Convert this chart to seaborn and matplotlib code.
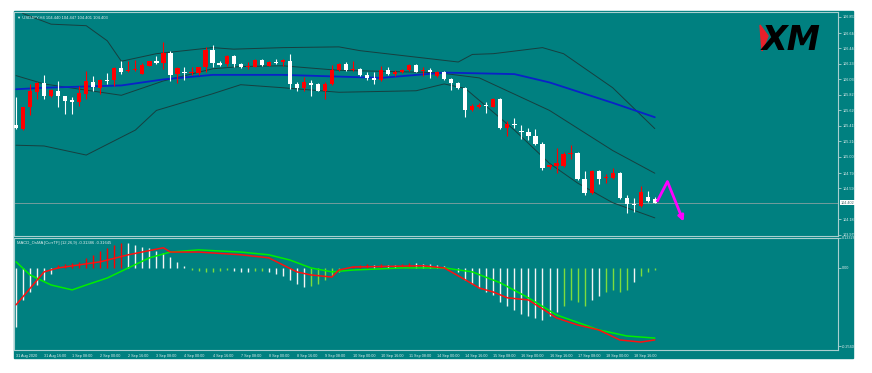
import numpy as np
import matplotlib.pyplot as plt
import matplotlib.patches as mpatches
import seaborn as sns

# USDJPY H4 candles (red = up bar, white = down bar)
opens = [105.421, 105.377, 105.662, 105.868, 105.978, 105.807, 105.873, 105.807, 105.759, 105.728,
         105.838, 105.999, 105.917, 106.026, 106.022, 106.180, 106.136, 106.153, 106.101, 106.210,
         106.276, 106.241, 106.373, 106.101, 106.132, 106.114, 106.114, 106.197, 106.421, 106.246,
         106.232, 106.342, 106.232, 106.189, 106.197, 106.285, 106.210, 106.263, 106.254, 106.276,
         105.969, 105.912, 105.978, 105.969, 105.881, 105.969, 106.157, 106.232, 106.153, 106.166,
         106.092, 106.043, 106.021, 106.157, 106.100, 106.122, 106.153, 106.219, 106.135, 106.153,
         106.070, 106.131, 106.035, 105.978, 105.912, 105.631, 105.671, 105.697, 105.671, 105.771,
         105.390, 105.443, 105.346, 105.333, 105.280, 105.179, 104.872, 104.885, 104.885, 105.039,
         105.061, 104.719, 104.530, 104.815, 104.728, 104.732, 104.793, 104.464, 104.381, 104.359,
         104.478, 104.443]
highs = [105.794, 105.671, 105.969, 105.991, 106.088, 105.903, 106.013, 105.816, 105.794, 105.947,
         106.145, 106.079, 106.035, 106.110, 106.197, 106.267, 106.276, 106.285, 106.246, 106.276,
         106.342, 106.531, 106.408, 106.189, 106.189, 106.189, 106.197, 106.452, 106.487, 106.267,
         106.355, 106.355, 106.246, 106.254, 106.298, 106.298, 106.276, 106.298, 106.298, 106.364,
         105.991, 106.057, 106.021, 105.978, 105.991, 106.223, 106.241, 106.254, 106.276, 106.179,
         106.122, 106.122, 106.210, 106.188, 106.153, 106.166, 106.232, 106.232, 106.197, 106.175,
         106.135, 106.144, 106.048, 105.991, 105.925, 105.706, 105.714, 105.728, 105.785, 105.785,
         105.486, 105.521, 105.421, 105.390, 105.377, 105.201, 104.916, 105.127, 105.070, 105.157,
         105.070, 104.815, 104.828, 104.828, 104.785, 104.859, 104.807, 104.500, 104.456, 104.622,
         104.557, 104.478]
lows = [105.377, 105.355, 105.553, 105.772, 105.772, 105.794, 105.662, 105.575, 105.575, 105.684,
        105.772, 105.882, 105.838, 105.969, 105.947, 106.101, 106.123, 106.145, 106.101, 106.202,
        106.232, 106.167, 106.013, 105.982, 106.022, 106.092, 106.092, 106.123, 106.189, 106.202,
        106.210, 106.189, 106.180, 106.167, 106.189, 106.202, 106.202, 106.232, 106.210, 105.903,
        105.881, 105.881, 105.815, 105.872, 105.771, 105.960, 106.144, 106.144, 106.144, 106.078,
        106.026, 105.969, 106.013, 106.087, 106.078, 106.114, 106.135, 106.122, 106.078, 106.048,
        106.057, 106.021, 105.890, 105.899, 105.530, 105.618, 105.653, 105.583, 105.662, 105.377,
        105.280, 105.390, 105.245, 105.223, 105.157, 104.828, 104.850, 104.798, 104.872, 104.982,
        104.697, 104.500, 104.521, 104.644, 104.662, 104.719, 104.443, 104.258, 104.280, 104.346,
        104.412, 104.390]
closes = [105.390, 105.662, 105.882, 105.978, 105.807, 105.890, 105.807, 105.750, 105.728, 105.846,
          106.004, 105.925, 106.026, 106.013, 106.180, 106.127, 106.153, 106.167, 106.224, 106.276,
          106.246, 106.373, 106.092, 106.175, 106.114, 106.132, 106.197, 106.421, 106.241, 106.215,
          106.342, 106.232, 106.197, 106.202, 106.285, 106.215, 106.263, 106.246, 106.280, 105.969,
          105.912, 106.000, 105.960, 105.881, 105.969, 106.157, 106.232, 106.157, 106.162, 106.092,
          106.043, 106.021, 106.157, 106.100, 106.122, 106.153, 106.219, 106.131, 106.153, 106.131,
          106.122, 106.035, 105.978, 105.916, 105.631, 105.684, 105.697, 105.675, 105.771, 105.385,
          105.443, 105.421, 105.333, 105.280, 105.179, 104.864, 104.894, 104.929, 105.048, 105.061,
          104.719, 104.535, 104.815, 104.719, 104.741, 104.793, 104.464, 104.377, 104.364, 104.543,
          104.425, 104.402]

# Bollinger bands and blue moving average, read at a few bars
upper_idx = [0, 1, 5, 10, 13, 15, 20, 28, 31, 38, 46, 49, 63, 65, 68, 75, 78, 85, 91]
upper_band = [107.00, 106.90, 106.76, 106.74, 106.54, 106.27, 106.37, 106.45, 106.43, 106.45,
              106.46, 106.41, 106.26, 106.36, 106.37, 106.45, 106.37, 105.92, 105.38]
mid_idx = [0, 4, 15, 21, 28, 32, 38, 46, 60, 66, 76, 85, 91]
mid_band = [106.08, 105.97, 105.82, 106.01, 106.17, 106.20, 106.21, 106.15, 106.12, 106.05,
            105.62, 105.09, 104.79]
lower_idx = [0, 4, 10, 17, 20, 28, 32, 38, 46, 57, 61, 64, 71, 76, 80, 85, 91]
lower_band = [105.16, 105.15, 105.03, 105.36, 105.62, 105.84, 105.96, 105.92, 105.86, 105.88,
              105.97, 105.91, 105.36, 104.92, 104.66, 104.40, 104.20]
ma_idx = [0, 4, 15, 21, 28, 38, 45, 52, 61, 71, 76, 85, 91]
ma_line = [105.90, 105.92, 105.95, 106.03, 106.09, 106.09, 106.07, 106.05, 106.12, 106.10,
           105.99, 105.72, 105.53]

# forecast arrow
arrow_idx = [91.3, 92.8, 95.1]
arrow_px = [104.41, 104.68, 104.15]

# MACD_OsMA histogram and lines
osma = [-0.193, -0.105, -0.079, -0.056, -0.039, -0.020, 0.010, 0.013, 0.016, 0.020,
        0.033, 0.043, 0.056, 0.066, 0.075, 0.082, 0.082, 0.075, 0.069, 0.066,
        0.056, 0.049, 0.036, 0.020, 0.007, -0.007, -0.010, -0.013, -0.013, -0.010,
        -0.007, -0.010, -0.013, -0.013, -0.010, -0.010, -0.013, -0.020, -0.026, -0.039,
        -0.052, -0.062, -0.059, -0.052, -0.039, -0.026, -0.013, 0.000, 0.007, 0.010,
        0.013, 0.010, 0.013, 0.010, 0.010, 0.013, 0.016, 0.016, 0.013, 0.013,
        0.010, 0.007, 0.000, -0.013, -0.039, -0.052, -0.066, -0.079, -0.089, -0.111,
        -0.125, -0.138, -0.151, -0.157, -0.164, -0.170, -0.157, -0.144, -0.125, -0.105,
        -0.111, -0.125, -0.105, -0.092, -0.079, -0.072, -0.079, -0.072, -0.046, -0.026,
        -0.013, -0.007]
osma_kind = list("WWWWWWRRRRRRRRRRWWWWWWWWWGGGGGGWWWGGWWWWWWGGGGGGRRRWRWWRRWWWWWWWWWWWWWWWWWWWWWGGGGWWGGGGWGGGGW")
macd_idx = [0, 4, 6, 12, 16, 21, 22, 26, 32, 36, 38, 40, 42, 45, 46, 48, 58, 61, 64, 66,
            68, 70, 73, 77, 80, 83, 86, 89, 91]
macd_main = [-0.121, -0.013, 0.000, 0.020, 0.043, 0.066, 0.052, 0.052, 0.043, 0.033,
             0.010, -0.013, -0.023, -0.030, -0.007, 0.003, 0.007, 0.000, -0.039, -0.066,
             -0.079, -0.098, -0.105, -0.164, -0.187, -0.203, -0.236, -0.243, -0.236]
signal_idx = [0, 2, 5, 8, 10, 13, 16, 19, 22, 26, 32, 36, 39, 42, 45, 48, 55, 61, 65, 69,
              73, 77, 83, 87, 91]
macd_signal = [0.020, -0.023, -0.056, -0.072, -0.056, -0.033, 0.000, 0.033, 0.052, 0.059,
               0.052, 0.043, 0.026, 0.000, -0.013, -0.007, 0.000, 0.000, -0.013, -0.049,
               -0.098, -0.154, -0.203, -0.223, -0.230]

time_labels = ["31 Aug 2020", "31 Aug 16:00", "1 Sep 08:00", "2 Sep 00:00", "2 Sep 16:00",
               "3 Sep 08:00", "4 Sep 00:00", "4 Sep 16:00", "7 Sep 08:00", "8 Sep 00:00",
               "8 Sep 16:00", "9 Sep 08:00", "10 Sep 00:00", "10 Sep 16:00", "11 Sep 08:00",
               "14 Sep 00:00", "14 Sep 16:00", "15 Sep 08:00", "16 Sep 00:00", "16 Sep 16:00",
               "17 Sep 08:00", "18 Sep 00:00", "18 Sep 16:00"]
price_ticks = [106.855, 106.640, 106.440, 106.235, 106.030, 105.825, 105.620, 105.415,
               105.210, 105.005, 104.790, 104.590, 104.180, 103.975]
last_price = 104.402

TEAL = '#008080'
RED = '#ff0000'
WHITE = '#ffffff'
BAND = '#173f3f'
FRAME = '#a9cfcf'
TXT = '#e4eeee'
hist_colors = {'W': '#f4f4f4', 'R': '#ff0000', 'G': '#7ddc3c'}
SMALL = 2.7

sns.set_theme(style="white")
plt.rcParams['font.family'] = ['Liberation Sans', 'DejaVu Sans']

W, H = 872, 373
fig = plt.figure(figsize=(W / 100, H / 100), dpi=100)
fig.patch.set_facecolor('white')


def fx(px):
    return px / W


def fy(py):
    return 1 - py / H


fig.patches.append(mpatches.Rectangle((fx(14), fy(358)), fx(853) - fx(14), fy(11) - fy(358),
                                      transform=fig.transFigure, color=TEAL, zorder=-5))
ax1 = fig.add_axes([fx(14), fy(236), fx(838) - fx(14), fy(12) - fy(236)])
ax2 = fig.add_axes([fx(14), fy(350), fx(838) - fx(14), fy(238) - fy(350)])

xlim = (-0.29, 117.1)
for ax in (ax1, ax2):
    ax.set_facecolor(TEAL)
    ax.set_xlim(*xlim)
    for s in ax.spines.values():
        s.set_color(FRAME)
        s.set_linewidth(0.8)
    ax.yaxis.tick_right()
    ax.tick_params(axis='both', length=2, width=0.6, color=FRAME, labelsize=SMALL,
                   labelcolor=TXT, pad=1)

# --- price panel
idx = np.arange(len(closes))
o = np.array(opens)
c = np.array(closes)
cols = np.where(c >= o, RED, WHITE)
ax1.axhline(last_price, color='#a0a8a8', lw=0.5, zorder=1)
ax1.vlines(idx, lows, highs, colors=cols, lw=0.8, zorder=3)
ax1.bar(idx, np.maximum(np.abs(c - o), 0.012), bottom=np.minimum(o, c), width=0.6,
        color=cols, linewidth=0, zorder=4)

for bx, by in [(upper_idx, upper_band), (mid_idx, mid_band), (lower_idx, lower_band)]:
    sns.lineplot(x=bx, y=by, ax=ax1, color=BAND, lw=0.7, zorder=2)
sns.lineplot(x=ma_idx, y=ma_line, ax=ax1, color='#0a22c8', lw=1.3, zorder=2)

ax1.plot(arrow_idx[:2], arrow_px[:2], color='#ff00ff', lw=2, solid_capstyle='butt', zorder=5)
ax1.annotate('', xy=(arrow_idx[2], arrow_px[2]), xytext=(arrow_idx[1], arrow_px[1]),
             arrowprops=dict(arrowstyle='-|>', color='#ff00ff', lw=2, mutation_scale=8,
                             shrinkA=0, shrinkB=0), zorder=5)

ax1.set_ylim(103.960, 106.921)
ax1.set_yticks(price_ticks)
ax1.set_yticklabels([f"{v:.3f}" for v in price_ticks])
ax1.set_xticks([])
ax1.text(1.003, last_price, f"{last_price:.3f}", transform=ax1.get_yaxis_transform(),
         fontsize=SMALL, color='#406868', va='center', ha='left',
         bbox=dict(boxstyle='square,pad=0.15', fc='white', ec='none'))
ax1.text(0.004, 0.985, "\u25bc USDJPY,H4 104.440 104.447 104.401 104.403", transform=ax1.transAxes,
         fontsize=3.0, color=TXT, va='top', ha='left')

# XM logo
fig.patches.append(mpatches.Polygon([(fx(760), fy(25)), (fx(762), fy(51)), (fx(768), fy(36))],
                                    closed=True, transform=fig.transFigure, color='#e8202a', zorder=5))
fig.text(fx(762), fy(50.5), "XM", fontsize=24, fontweight='bold', style='italic',
         family='DejaVu Sans', color='black', ha='left', va='baseline', zorder=6)

# --- MACD panel
ax2.vlines(idx, 0, osma, colors=[hist_colors[k] for k in osma_kind], lw=1.0, zorder=2)
sns.lineplot(x=signal_idx, y=macd_signal, ax=ax2, color='#00ee00', lw=1.1, zorder=3)
sns.lineplot(x=macd_idx, y=macd_main, ax=ax2, color='#ff1010', lw=1.1, zorder=4)
ax2.set_ylim(-0.269, 0.098)
ax2.set_yticks([0.098, 0.0, -0.256])
ax2.set_yticklabels(["0.13326", "0.00", "-0.2560"])
ax2.set_xticks(np.arange(len(time_labels)) * 4)
ax2.set_xticklabels(time_labels, ha='left')
ax2.text(0.004, 0.975, "MACD_OsMA [CurrTF] (12,26,9) -0.31386 -0.31645", transform=ax2.transAxes,
         fontsize=3.0, color=TXT, va='top', ha='left')

fig.savefig("out.png", dpi=100, facecolor='white')
